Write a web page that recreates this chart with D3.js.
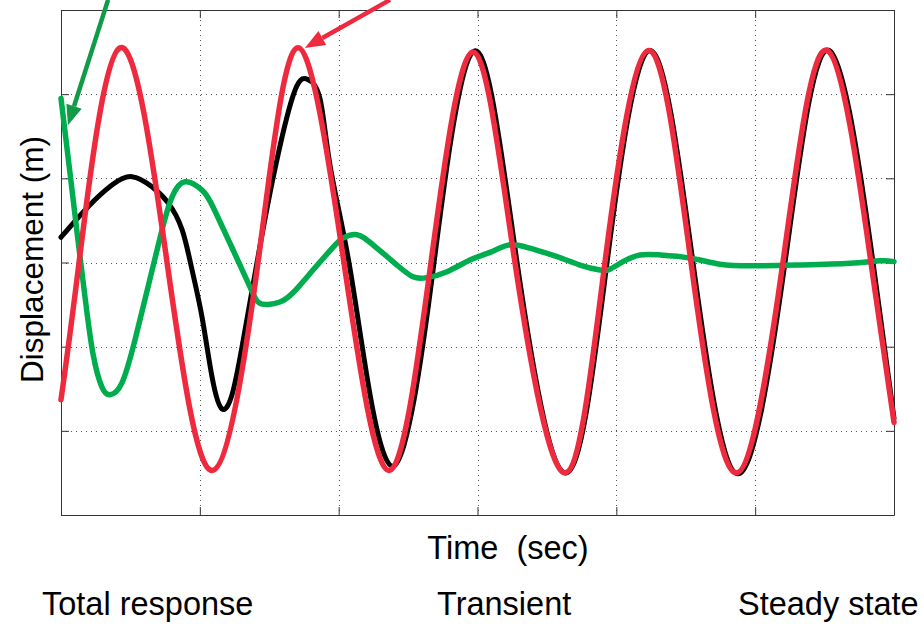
<!DOCTYPE html>
<html>
<head>
<meta charset="utf-8">
<script src="https://cdn.jsdelivr.net/npm/d3@7.9.0/dist/d3.min.js"></script>
<style>
  body { margin: 0; background: #fff; }
  text { font-family: "Liberation Sans", Arial, sans-serif; fill: #000; }
</style>
</head>
<body>
<div id="chart"></div>
<script>
// time (s) and displacement (m)
const steadyT = [0, 0.13, 0.425, 0.764, 1.088, 1.419, 1.707, 2.038, 2.363, 2.665, 2.968, 3.27, 3.63, 3.918, 4.235, 4.538, 4.862, 5.2, 5.518, 5.834, 6.0];
const steadyY = [-1.63, 0, 2.55, 0, -2.47, 0, 2.55, 0, -2.47, 0, 2.5, 0, -2.5, 0, 2.52, 0, -2.5, 0, 2.52, 0, -1.9];

const totalT = [0, 0.194, 0.367, 0.511, 0.655, 0.771, 0.872, 0.944, 1.016, 1.088, 1.16, 1.232, 1.304, 1.412, 1.527, 1.671, 1.772, 1.865, 1.938, 2.074, 2.226, 2.391, 2.543, 2.687, 2.975, 3.285, 3.638, 3.933, 4.243, 4.552, 4.876, 5.215, 5.532, 5.849, 6.0];
const totalY = [0.3, 0.66, 0.92, 1.02, 0.9, 0.71, 0.39, -0.09, -0.65, -1.36, -1.74, -1.57, -1.0, 0, 1.0, 1.98, 2.18, 1.95, 1.15, 0, -1.57, -2.42, -1.63, 0, 2.51, 0, -2.5, 0, 2.52, 0, -2.51, 0, 2.52, 0, -1.85];

const transT = [0, 0.065, 0.122, 0.173, 0.23, 0.295, 0.353, 0.439, 0.533, 0.627, 0.728, 0.8, 0.893, 1.016, 1.095, 1.239, 1.361, 1.419, 1.491, 1.577, 1.671, 1.815, 1.959, 2.031, 2.132, 2.247, 2.42, 2.535, 2.636, 2.78, 2.946, 3.09, 3.234, 3.378, 3.573, 3.738, 3.882, 3.954, 4.048, 4.171, 4.315, 4.459, 4.603, 4.747, 4.963, 5.323, 5.683, 5.899, 6.0];
const transY = [1.95, 1.06, 0.27, -0.41, -1.08, -1.48, -1.57, -1.43, -0.92, -0.29, 0.39, 0.78, 0.96, 0.86, 0.66, 0.15, -0.29, -0.47, -0.5, -0.47, -0.36, -0.09, 0.18, 0.29, 0.33, 0.21, -0.03, -0.17, -0.18, -0.11, 0.03, 0.12, 0.21, 0.17, 0.07, -0.03, -0.09, -0.08, 0.01, 0.09, 0.09, 0.07, 0.03, -0.02, -0.04, -0.03, -0.01, 0.02, 0.01];

const xTicks = [0, 1, 2, 3, 4, 5, 6];
const yTicks = [-3, -2, -1, 0, 1, 2, 3];

// annotation arrows: [fromT, fromY, toT, toY]
const arrows = [
  { from: [0.339, 3.12], to: [0.05, 1.63], color: '#119a47' },
  { from: [2.37, 3.12], to: [1.757, 2.55], color: '#ee2a3e' },
];

const width = 924, height = 627;
const margin = { top: 10, right: 30, bottom: 112, left: 61 };

const svg = d3.select('#chart').append('svg')
  .attr('width', width).attr('height', height);

const x = d3.scaleLinear().domain([0, 6]).range([margin.left, width - margin.right]);
const y = d3.scaleLinear().domain([-3, 3]).range([height - margin.bottom, margin.top]);

// dotted grid
const grid = svg.append('g').attr('class', 'grid')
  .attr('stroke', '#555').attr('stroke-width', 1).attr('stroke-dasharray', '1,4');
grid.selectAll('line.v').data(xTicks.slice(1, -1)).join('line')
  .attr('x1', d => Math.round(x(d)) + 0.5).attr('x2', d => Math.round(x(d)) + 0.5)
  .attr('y1', y(3)).attr('y2', y(-3));
grid.selectAll('line.h').data(yTicks.slice(1, -1)).join('line')
  .attr('y1', d => Math.round(y(d)) + 0.5).attr('y2', d => Math.round(y(d)) + 0.5)
  .attr('x1', x(0)).attr('x2', x(6));

// axes with inward ticks and no labels
const tick = 8;
svg.append('g').attr('transform', `translate(0,${y(-3)})`)
  .call(d3.axisBottom(x).tickValues(xTicks).tickSizeInner(-tick).tickSizeOuter(0).tickFormat(''));
svg.append('g').attr('transform', `translate(0,${y(3)})`)
  .call(d3.axisTop(x).tickValues(xTicks).tickSizeInner(-tick).tickSizeOuter(0).tickFormat(''));
svg.append('g').attr('transform', `translate(${x(0)},0)`)
  .call(d3.axisLeft(y).tickValues(yTicks).tickSizeInner(-tick).tickSizeOuter(0).tickFormat(''));
svg.append('g').attr('transform', `translate(${x(6)},0)`)
  .call(d3.axisRight(y).tickValues(yTicks).tickSizeInner(-tick).tickSizeOuter(0).tickFormat(''));
svg.selectAll('.domain, .tick line').attr('stroke', '#333');

// curves
const line = d3.line().x(d => x(d[0])).y(d => y(d[1])).curve(d3.curveNatural);
const zip = (a, b) => a.map((t, i) => [t, b[i]]);

const plot = svg.append('g').attr('fill', 'none').attr('stroke-linejoin', 'round').attr('stroke-linecap', 'round');
plot.append('path').datum(zip(totalT, totalY)).attr('d', line).attr('stroke', '#000').attr('stroke-width', 5);
plot.append('path').datum(zip(transT, transY)).attr('d', line).attr('stroke', '#00ad4e').attr('stroke-width', 5.5);
plot.append('path').datum(zip(steadyT, steadyY)).attr('d', line).attr('stroke', '#ee2a3e').attr('stroke-width', 5.5);

// arrows
arrows.forEach(a => {
  const x0 = x(a.from[0]), y0 = y(a.from[1]);
  const x1 = x(a.to[0]), y1 = y(a.to[1]);
  const ang = Math.atan2(y1 - y0, x1 - x0);
  const len = 20, half = 8;
  const bx = x1 - len * Math.cos(ang), by = y1 - len * Math.sin(ang);
  svg.append('line')
    .attr('x1', x0).attr('y1', y0).attr('x2', bx).attr('y2', by)
    .attr('stroke', a.color).attr('stroke-width', 4.5);
  const pts = [
    [x1, y1],
    [bx + half * Math.sin(ang), by - half * Math.cos(ang)],
    [bx - half * Math.sin(ang), by + half * Math.cos(ang)],
  ];
  svg.append('polygon').attr('points', pts.map(p => p.join(',')).join(' ')).attr('fill', a.color);
});

// labels
svg.append('text')
  .attr('transform', `translate(43,${y(0) - 3}) rotate(-90)`)
  .attr('text-anchor', 'middle').attr('font-size', 31.5).text('Displacement (m)');
svg.append('text')
  .attr('x', 508).attr('y', 559).attr('text-anchor', 'middle')
  .attr('font-size', 32.5).style('white-space', 'pre').text('Time  (sec)');

const bottomLabels = ['Total response', 'Transient', 'Steady state'];
const bottomX = [42, 437, 738];
svg.selectAll('text.part').data(bottomLabels).join('text').attr('class', 'part')
  .attr('x', (d, i) => bottomX[i]).attr('y', 615)
  .attr('font-size', 32.5).text(d => d);
</script>
</body>
</html>
